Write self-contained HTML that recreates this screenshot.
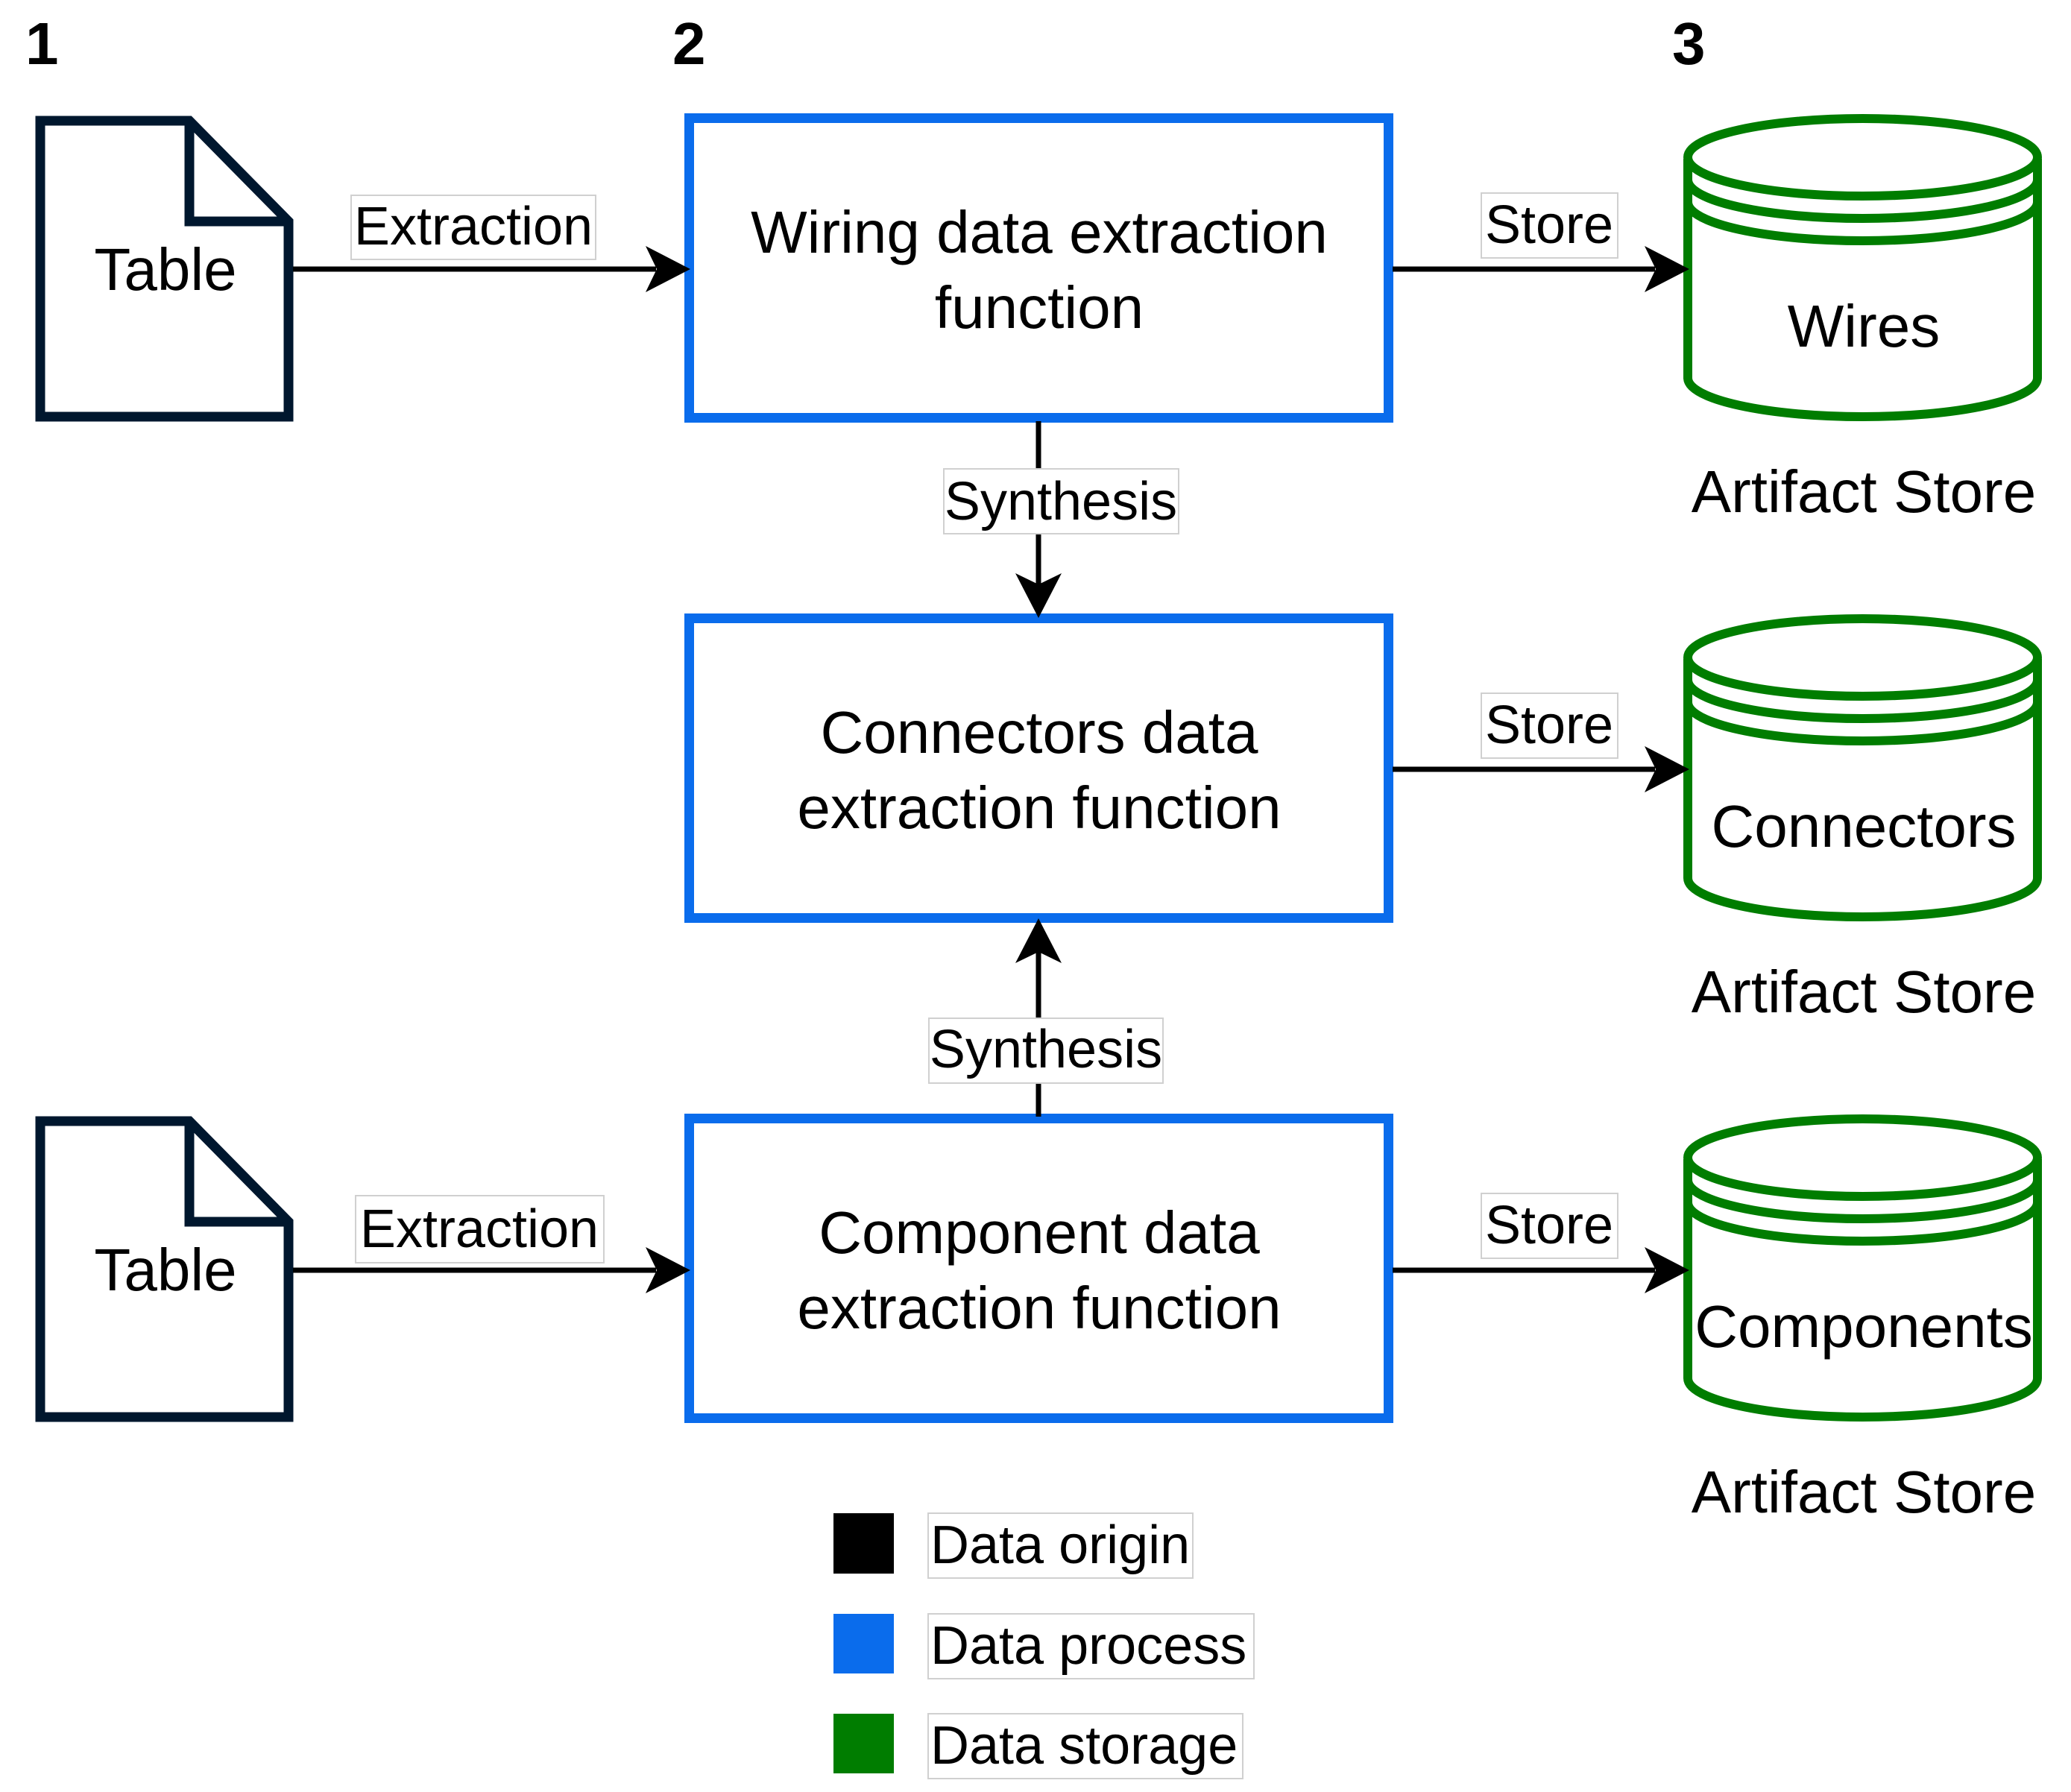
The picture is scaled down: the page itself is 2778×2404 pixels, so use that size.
<!DOCTYPE html>
<html><head><meta charset="utf-8"><style>
html,body{margin:0;padding:0;background:#fff;}
svg{display:block;}
text{font-family:"Liberation Sans",Arial,sans-serif;fill:#000;}
</style></head><body>
<svg width="2778" height="2404" viewBox="0 0 2778 2404" xmlns="http://www.w3.org/2000/svg">
<defs>
<g id="cyl">
  <path d="M2264,1555 L2264,1849 A234.5,52 0 0 0 2733,1849 L2733,1555" fill="#fff" stroke="#007d00" stroke-width="12"/>
  <ellipse cx="2498.5" cy="1553" rx="234.5" ry="52" fill="#fff" stroke="#007d00" stroke-width="12"/>
  <path d="M2264,1583 A234.5,52 0 0 0 2733,1583" fill="none" stroke="#007d00" stroke-width="12"/>
  <path d="M2264,1613 A234.5,52 0 0 0 2733,1613" fill="none" stroke="#007d00" stroke-width="12"/>
</g>
<g id="doc">
  <path d="M54,162 L254,162 L387,297 L387,559 L54,559 Z" fill="#fff" stroke="#00172e" stroke-width="13" stroke-linejoin="miter"/>
  <path d="M254,162 L254,297 L387,297" fill="none" stroke="#00172e" stroke-width="13"/>
</g>
</defs>

<text x="34" y="86" font-size="80" font-weight="bold">1</text>
<text x="902" y="86" font-size="80" font-weight="bold">2</text>
<text x="2243" y="86" font-size="80" font-weight="bold">3</text>

<use href="#doc"/>
<text x="222" y="389" font-size="80" text-anchor="middle">Table</text>
<use href="#doc" transform="translate(0,1342)"/>
<text x="222" y="1731" font-size="80" text-anchor="middle">Table</text>

<rect x="924.5" y="158.5" width="938" height="402" fill="#fff" stroke="#0a6cec" stroke-width="13"/>
<text x="1394" y="339" font-size="80" text-anchor="middle">Wiring data extraction</text>
<text x="1394" y="440" font-size="80" text-anchor="middle">function</text>

<rect x="924.5" y="829.5" width="938" height="402" fill="#fff" stroke="#0a6cec" stroke-width="13"/>
<text x="1394" y="1010" font-size="80" text-anchor="middle">Connectors data</text>
<text x="1394" y="1111" font-size="80" text-anchor="middle">extraction function</text>

<rect x="924.5" y="1500.5" width="938" height="402" fill="#fff" stroke="#0a6cec" stroke-width="13"/>
<text x="1394" y="1681" font-size="80" text-anchor="middle">Component data</text>
<text x="1394" y="1782" font-size="80" text-anchor="middle">extraction function</text>

<use href="#cyl" transform="translate(0,-1342)"/>
<text x="2500" y="465" font-size="80" text-anchor="middle">Wires</text>
<text x="2500" y="687" font-size="80" text-anchor="middle">Artifact Store</text>
<use href="#cyl" transform="translate(0,-671)"/>
<text x="2500" y="1136" font-size="80" text-anchor="middle">Connectors</text>
<text x="2500" y="1358" font-size="80" text-anchor="middle">Artifact Store</text>
<use href="#cyl"/>
<text x="2500" y="1807" font-size="80" text-anchor="middle">Components</text>
<text x="2500" y="2029" font-size="80" text-anchor="middle">Artifact Store</text>

<g stroke="#000" stroke-width="7">
  <line x1="393" y1="361" x2="880" y2="361"/>
  <line x1="1868" y1="361" x2="2220" y2="361"/>
  <line x1="1868" y1="1032" x2="2220" y2="1032"/>
  <line x1="393" y1="1704" x2="880" y2="1704"/>
  <line x1="1868" y1="1704" x2="2220" y2="1704"/>
  <line x1="1393" y1="565" x2="1393" y2="800"/>
  <line x1="1393" y1="1498" x2="1393" y2="1262"/>
</g>
<g fill="#000">
  <path d="M926,361 L866,330 L881,361 L866,392 Z"/>
  <path d="M2266,361 L2206,330 L2221,361 L2206,392 Z"/>
  <path d="M2266,1032 L2206,1001 L2221,1032 L2206,1063 Z"/>
  <path d="M926,1704 L866,1673 L881,1704 L866,1735 Z"/>
  <path d="M2266,1704 L2206,1673 L2221,1704 L2206,1735 Z"/>
  <path d="M1393,829 L1362,769 L1393,784 L1424,769 Z"/>
  <path d="M1393,1232 L1362,1292 L1393,1277 L1424,1292 Z"/>
</g>

<g fill="#fff" stroke="#d0d0d0" stroke-width="2">
  <rect x="471" y="262" width="328" height="86"/>
  <rect x="477" y="1604" width="333" height="90"/>
  <rect x="1987" y="259" width="183" height="87"/>
  <rect x="1987" y="930" width="183" height="87"/>
  <rect x="1987" y="1601" width="183" height="87"/>
  <rect x="1266" y="629" width="315" height="87"/>
  <rect x="1246" y="1366" width="314" height="87"/>
</g>
<text x="635" y="328" font-size="72" text-anchor="middle">Extraction</text>
<text x="643" y="1673" font-size="72" text-anchor="middle">Extraction</text>
<text x="2078" y="326" font-size="72" text-anchor="middle">Store</text>
<text x="2078" y="997" font-size="72" text-anchor="middle">Store</text>
<text x="2078" y="1668" font-size="72" text-anchor="middle">Store</text>
<text x="1423" y="697" font-size="72" text-anchor="middle">Synthesis</text>
<text x="1403" y="1432" font-size="72" text-anchor="middle">Synthesis</text>

<rect x="1118" y="2030" width="81" height="81" fill="#000"/>
<rect x="1118" y="2165" width="81" height="80" fill="#0a6cec"/>
<rect x="1118" y="2299" width="81" height="80" fill="#007d00"/>
<g fill="#fff" stroke="#d0d0d0" stroke-width="2">
  <rect x="1245" y="2030" width="355" height="87"/>
  <rect x="1245" y="2165" width="437" height="87"/>
  <rect x="1245" y="2299" width="422" height="87"/>
</g>
<text x="1248" y="2097" font-size="72">Data origin</text>
<text x="1248" y="2232" font-size="72">Data process</text>
<text x="1248" y="2366" font-size="72">Data storage</text>
</svg>
</body></html>
